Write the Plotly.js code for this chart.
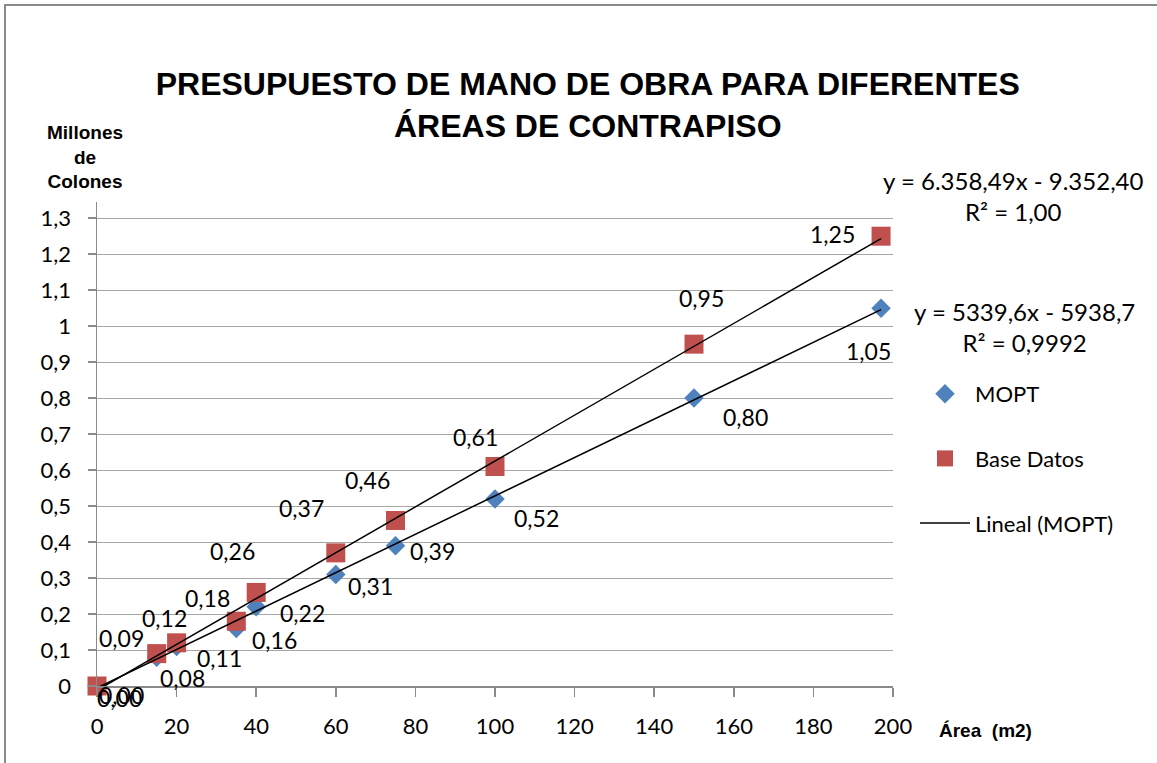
<!DOCTYPE html>
<html>
<head>
<meta charset="utf-8">
<script src="https://cdn.plot.ly/plotly-3.0.1.min.js"></script>
<style>
  html, body { margin: 0; padding: 0; background: #ffffff; }
  #frame { position: absolute; left: 4px; top: 4px; width: 1200px; height: 800px;
           border-left: 2px solid #8a8a8a; border-top: 2px solid #8a8a8a; }
  #chart { position: absolute; left: 0; top: 0; width: 1157px; height: 763px; }
</style>
</head>
<body>
<div id="frame"></div>
<div id="chart"></div>
<script>
// ---- Data ----
const areas = [0, 15, 20, 35, 40, 60, 75, 100, 150, 197];          // Área (m2)
const mopt = [0.00, 0.08, 0.11, 0.16, 0.22, 0.31, 0.39, 0.52, 0.80, 1.05];      // Millones de colones
const baseDatos = [0.00, 0.09, 0.12, 0.18, 0.26, 0.37, 0.46, 0.61, 0.95, 1.25]; // Millones de colones
const seriesNames = ['MOPT', 'Base Datos', 'Lineal (MOPT)'];
const eqBase = ['y = 6.358,49x - 9.352,40', 'R² = 1,00'];
const eqMopt = ['y = 5339,6x - 5938,7', 'R² = 0,9992'];

// ---- label offsets (pixels), styling only ----
const moptShift = [[24, -9], [26, -21], [43, -12], [38, -12], [46, -6], [35, -12], [37, -5], [41, -19], [51, -19], [-13, -43]];
const baseShift = [[22, -12], [-35, 16], [-12, 25], [-29, 23], [-24, 41], [-34, 45], [-28, 40], [-20, 29], [7, 46], [-49, 2]];

// least squares linear fit (Excel "Lineal" trendline)
function linfit(xs, ys) {
  const n = xs.length;
  const mx = xs.reduce((a, b) => a + b, 0) / n;
  const my = ys.reduce((a, b) => a + b, 0) / n;
  let sxy = 0, sxx = 0;
  for (let i = 0; i < n; i++) { sxy += (xs[i] - mx) * (ys[i] - my); sxx += (xs[i] - mx) ** 2; }
  const m = sxy / sxx;
  return { m: m, b: my - m * mx };
}
const xMin = Math.min(...areas), xMax = Math.max(...areas);
const fitM = linfit(areas, mopt);
const fitB = linfit(areas, baseDatos);

const numFont = "Lato, 'Open Sans', sans-serif";
const boldFont = "'Liberation Sans', Arial, sans-serif";
const fmt = v => v.toFixed(2).replace('.', ',');

const traces = [
  { x: areas, y: mopt, type: 'scatter', mode: 'markers', name: seriesNames[0], legendgroup: 'a',
    marker: { symbol: 'diamond', size: 15, color: '#4F81BD' }, cliponaxis: false },
  { x: areas, y: baseDatos, type: 'scatter', mode: 'markers', name: seriesNames[1], legendgroup: 'b',
    marker: { symbol: 'square', size: 19, color: '#C0504D' }, cliponaxis: false },
  { x: [xMin, xMax], y: [fitM.b + fitM.m * xMin, fitM.b + fitM.m * xMax], type: 'scatter', mode: 'lines',
    name: seriesNames[2], legendgroup: 'c', line: { color: '#000000', width: 1.5 }, cliponaxis: false },
  { x: [xMin, xMax], y: [fitB.b + fitB.m * xMin, fitB.b + fitB.m * xMax], type: 'scatter', mode: 'lines',
    name: 'Lineal (Base Datos)', showlegend: false, line: { color: '#000000', width: 1.5 }, cliponaxis: false }
];

const annotations = [];
areas.forEach((x, i) => {
  annotations.push({ x: x, y: mopt[i], xref: 'x', yref: 'y', text: fmt(mopt[i]), showarrow: false,
    xshift: moptShift[i][0], yshift: moptShift[i][1], font: { family: numFont, size: 23, color: '#000' } });
});
areas.forEach((x, i) => {
  annotations.push({ x: x, y: baseDatos[i], xref: 'x', yref: 'y', text: fmt(baseDatos[i]), showarrow: false,
    xshift: baseShift[i][0], yshift: baseShift[i][1], font: { family: numFont, size: 23, color: '#000' } });
});
// axis titles
annotations.push({ xref: 'paper', yref: 'paper', x: (85 - 97) / 796, y: (686 - 157) / 484,
  text: '<b>Millones<br>de<br>Colones</b>', showarrow: false, xanchor: 'center', yanchor: 'middle',
  font: { family: boldFont, size: 19, color: '#000' } });
annotations.push({ xref: 'paper', yref: 'paper', x: (985 - 97) / 796, y: (686 - 730) / 484,
  text: '<b>Área  (m2)</b>', showarrow: false, xanchor: 'center', yanchor: 'middle',
  font: { family: boldFont, size: 19, color: '#000' } });
// trendline equations
annotations.push({ xref: 'paper', yref: 'paper', x: (1013 - 97) / 796, y: (686 - 196) / 484,
  text: eqBase.join('<br>'), showarrow: false, xanchor: 'center', yanchor: 'middle', align: 'center',
  font: { family: numFont, size: 24, color: '#000' } });
annotations.push({ xref: 'paper', yref: 'paper', x: (1024 - 97) / 796, y: (686 - 327) / 484,
  text: eqMopt.join('<br>'), showarrow: false, xanchor: 'center', yanchor: 'middle', align: 'center',
  font: { family: numFont, size: 24, color: '#000' } });

const layout = {
  width: 1157, height: 763,
  margin: { l: 97, r: 264, t: 202, b: 77 },
  paper_bgcolor: 'rgba(0,0,0,0)', plot_bgcolor: 'rgba(0,0,0,0)',
  separators: ',.',
  title: { text: '<b>PRESUPUESTO DE MANO DE OBRA PARA DIFERENTES<br>ÁREAS DE CONTRAPISO</b>',
    xref: 'container', yref: 'container', x: 0.508, xanchor: 'center', y: 1 - 95 / 763, yanchor: 'top',
    font: { family: boldFont, size: 32, color: '#000' } },
  xaxis: { range: [0, 200], dtick: 20, tick0: 0, showgrid: false, zeroline: false,
    showline: true, linecolor: '#8a8a8a', linewidth: 1.5, ticks: 'outside', ticklen: 9, tickcolor: '#8a8a8a',
    tickwidth: 1.5, tickfont: { family: numFont, size: 22, color: '#000' }, ticklabelstandoff: 11 },
  yaxis: { range: [0, 1.345], dtick: 0.1, tick0: 0, showgrid: true, gridcolor: '#a6a6a6', gridwidth: 1,
    zeroline: false, showline: true, linecolor: '#8a8a8a', linewidth: 1.5, ticks: 'outside', ticklen: 8,
    tickcolor: '#8a8a8a', tickwidth: 1.5, tickfont: { family: numFont, size: 22, color: '#000' },
    ticklabelstandoff: 12 },
  showlegend: true,
  legend: { x: (915 - 97) / 796, y: (686 - 373) / 484, xanchor: 'left', yanchor: 'top',
    bgcolor: 'rgba(0,0,0,0)', tracegroupgap: 33, itemwidth: 50,
    font: { family: numFont, size: 22, color: '#000' } },
  annotations: annotations
};

Plotly.newPlot('chart', traces, layout, { displayModeBar: false, staticPlot: true });
</script>
</body>
</html>
